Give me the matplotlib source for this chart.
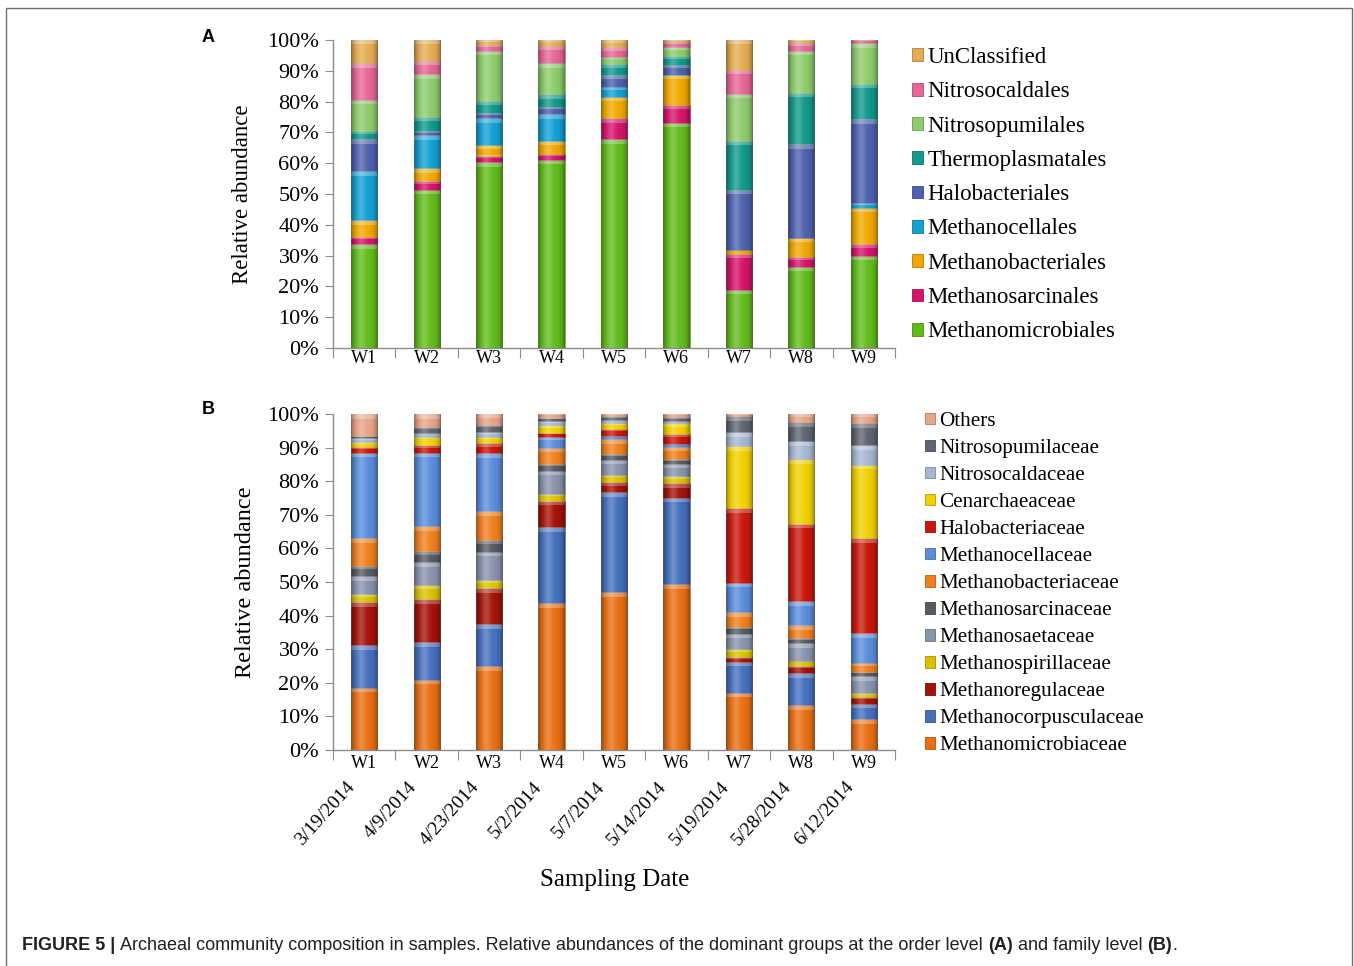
import numpy as np
import matplotlib
matplotlib.use('Agg')
import matplotlib.pyplot as plt
from matplotlib.patches import Patch, Rectangle
from matplotlib.colors import to_rgb

samples = ['W1', 'W2', 'W3', 'W4', 'W5', 'W6', 'W7', 'W8', 'W9']
dates = ['3/19/2014', '4/9/2014', '4/23/2014', '5/2/2014', '5/7/2014',
         '5/14/2014', '5/19/2014', '5/28/2014', '6/12/2014']

# order level, relative abundance (%), stacked bottom -> top
methanomicrobiales = [33.7, 51.4, 60.3, 61.2, 67.7, 73.2, 18.8, 26.4, 30.0]
methanosarcinales = [2.5, 2.7, 2.2, 1.8, 6.9, 5.7, 11.7, 3.1, 3.8]
methanobacteriales = [5.2, 4.2, 3.3, 4.2, 6.9, 9.7, 1.3, 6.2, 11.6]
methanocellales = [16.0, 10.7, 8.8, 8.7, 3.3, 0.5, 0.0, 0.0, 1.7]
halobacteriales = [10.3, 1.4, 1.8, 2.4, 3.8, 2.7, 19.6, 30.4, 27.1]
thermoplasmatales = [2.7, 4.6, 3.8, 4.1, 3.6, 3.1, 15.8, 16.8, 11.5]
nitrosopumilales = [10.1, 13.9, 16.3, 10.0, 2.4, 2.7, 15.4, 13.6, 13.2]
nitrosocaldales = [11.9, 4.4, 2.0, 5.8, 3.0, 1.6, 7.6, 2.5, 1.1]
unclassified = [7.6, 6.7, 1.5, 1.8, 2.4, 0.8, 9.8, 1.0, 0.0]

# family level, relative abundance (%), stacked bottom -> top
methanomicrobiaceae = [18.6, 20.9, 24.9, 43.8, 47.0, 49.3, 17.1, 13.4, 9.2]
methanocorpusculaceae = [12.7, 11.2, 12.6, 22.6, 29.7, 25.8, 9.2, 9.5, 4.6]
methanoregulaceae = [12.7, 12.9, 10.7, 7.8, 3.0, 4.3, 1.3, 2.2, 2.0]
methanospirillaceae = [2.5, 4.2, 2.3, 2.0, 2.2, 2.0, 2.5, 1.5, 1.1]
methanosaetaceae = [5.3, 6.8, 8.5, 6.9, 4.5, 3.7, 4.5, 5.3, 5.0]
methanosarcinaceae = [3.0, 3.3, 3.6, 2.1, 1.6, 1.5, 2.0, 1.4, 1.4]
methanobacteriaceae = [8.3, 7.4, 8.5, 4.8, 4.5, 3.5, 4.4, 3.8, 2.5]
methanocellaceae = [25.4, 21.8, 17.2, 3.3, 1.1, 1.0, 8.8, 7.1, 9.0]
halobacteriaceae = [1.8, 2.3, 3.0, 1.0, 2.0, 3.0, 22.1, 23.2, 28.3]
cenarchaeaceae = [1.3, 2.5, 2.0, 2.3, 1.7, 3.2, 18.6, 19.2, 21.8]
nitrosocaldaceae = [1.2, 1.0, 1.3, 1.2, 1.0, 0.7, 4.1, 5.4, 5.9]
nitrosopumilaceae = [0.7, 1.7, 2.2, 1.0, 1.0, 1.0, 4.7, 5.6, 6.5]
others = [6.5, 4.0, 3.2, 1.2, 0.7, 1.0, 0.7, 2.4, 2.7]

order_series = [
    ('Methanomicrobiales', methanomicrobiales, '#62bb1c'),
    ('Methanosarcinales', methanosarcinales, '#d5146a'),
    ('Methanobacteriales', methanobacteriales, '#f0a800'),
    ('Methanocellales', methanocellales, '#13a0d2'),
    ('Halobacteriales', halobacteriales, '#4e61ad'),
    ('Thermoplasmatales', thermoplasmatales, '#12998a'),
    ('Nitrosopumilales', nitrosopumilales, '#8dcb6c'),
    ('Nitrosocaldales', nitrosocaldales, '#e56797'),
    ('UnClassified', unclassified, '#e5ac52'),
]

family_series = [
    ('Methanomicrobiaceae', methanomicrobiaceae, '#e86f12'),
    ('Methanocorpusculaceae', methanocorpusculaceae, '#4670bd'),
    ('Methanoregulaceae', methanoregulaceae, '#a3130a'),
    ('Methanospirillaceae', methanospirillaceae, '#d8c200'),
    ('Methanosaetaceae', methanosaetaceae, '#8893ad'),
    ('Methanosarcinaceae', methanosarcinaceae, '#565b63'),
    ('Methanobacteriaceae', methanobacteriaceae, '#ef7f1d'),
    ('Methanocellaceae', methanocellaceae, '#5a8ddb'),
    ('Halobacteriaceae', halobacteriaceae, '#c8180c'),
    ('Cenarchaeaceae', cenarchaeaceae, '#f1d000'),
    ('Nitrosocaldaceae', nitrosocaldaceae, '#a8b6d2'),
    ('Nitrosopumilaceae', nitrosopumilaceae, '#5e6570'),
    ('Others', others, '#e8a487'),
]

W, H = 1354, 966
SERIF = 'Liberation Serif'
SANS = 'Liberation Sans'
AXIS_GREY = '#8c8c8c'

fig = plt.figure(figsize=(W / 100, H / 100), dpi=100)


def px_axes(left, top, right, bottom):
    return fig.add_axes([left / W, 1 - bottom / H, (right - left) / W, (bottom - top) / H])


def darker(c, f=0.7):
    r, g, b = to_rgb(c)
    return (r * f, g * f, b * f)


# horizontal shading across each bar: dark rims + a soft highlight
t = np.linspace(0, 1, 64)
rim = np.zeros((1, 64, 4))
rim[0, :, 3] = 0.38 * np.abs(2 * t - 1) ** 4
shine = np.ones((1, 64, 4))
shine[0, :, 3] = 0.22 * np.exp(-((t - 0.38) / 0.16) ** 2)


def stacked(ax, series, width=0.42, label_pad=1.5):
    x = np.arange(len(samples))
    bottom = np.zeros(len(samples))
    for name, vals, col in series:
        vals = np.array(vals)
        ax.bar(x, vals, width, bottom=bottom, color=col, edgecolor=darker(col, 0.8),
               linewidth=0.4, label=name, zorder=2)
        # lighter cap on each segment
        cap = np.minimum(1.4, vals * 0.35)
        ax.bar(x, cap, width, bottom=bottom + vals - cap, color='white', alpha=0.28,
               linewidth=0, zorder=3)
        bottom += vals
    for xi, top in zip(x, bottom):
        ext = (xi - width / 2, xi + width / 2, 0, top)
        ax.imshow(shine, extent=ext, aspect='auto', zorder=4, interpolation='bilinear')
        ax.imshow(rim, extent=ext, aspect='auto', zorder=4, interpolation='bilinear')

    ax.set_xlim(-0.5, len(samples) - 0.5)
    ax.set_ylim(0, 100)
    ax.set_yticks(np.arange(0, 101, 10))
    ax.set_yticklabels([f'{v}%' for v in range(0, 101, 10)], fontfamily=SERIF, fontsize=16)
    ax.tick_params(axis='y', direction='out', length=6, color=AXIS_GREY, pad=4)
    ax.set_xticks(np.arange(-0.5, len(samples)), minor=False)
    ax.set_xticklabels([])
    ax.tick_params(axis='x', which='major', direction='out', length=7, color=AXIS_GREY)
    ax.set_xticks(x, minor=True)
    ax.set_xticklabels(samples, minor=True, fontfamily=SERIF, fontsize=13)
    ax.tick_params(axis='x', which='minor', length=0, pad=label_pad)
    for s in ('top', 'right'):
        ax.spines[s].set_visible(False)
    for s in ('left', 'bottom'):
        ax.spines[s].set_color(AXIS_GREY)
        ax.spines[s].set_linewidth(1.0)


def legend(ax, series, x, y, fs, spacing):
    handles = [Patch(facecolor=c, edgecolor=darker(c, 0.75), linewidth=0.6) for _, _, c in series][::-1]
    labels = [n for n, _, _ in series][::-1]
    ax.legend(handles, labels, loc='upper left', bbox_to_anchor=(x / W, 1 - y / H),
              bbox_transform=fig.transFigure, frameon=False, borderpad=0, borderaxespad=0,
              handlelength=0.48, handleheight=0.48, handletextpad=0.2, labelspacing=spacing,
              prop={'family': SERIF, 'size': fs})


# panel A: order level
axA = px_axes(333, 40, 895, 348)
stacked(axA, order_series, label_pad=1.5)
axA.set_ylabel('Relative abundance', fontfamily=SERIF, fontsize=16.5, labelpad=10)
legend(axA, order_series, 912, 47, 16.5, 0.58)

# panel B: family level
axB = px_axes(333, 414, 895, 750)
stacked(axB, family_series, label_pad=3.5)
axB.set_ylabel('Relative abundance', fontfamily=SERIF, fontsize=17.5, labelpad=8)
legend(axB, family_series, 925, 412, 15.2, 0.38)
for i, d in enumerate(dates):
    axB.text(i - 0.3, -0.085, d, transform=axB.get_xaxis_transform(), rotation=48,
             rotation_mode='anchor', ha='right', va='top', fontfamily=SERIF, fontsize=14)
fig.text(615 / W, 1 - 880 / H, 'Sampling Date', ha='center', va='center',
         fontfamily=SERIF, fontsize=18)

fig.text(208 / W, 1 - 38 / H, 'A', ha='center', va='center', fontfamily=SANS,
         fontweight='bold', fontsize=13)
fig.text(208 / W, 1 - 410 / H, 'B', ha='center', va='center', fontfamily=SANS,
         fontweight='bold', fontsize=13)

# frame around the figure body
fig.patches.append(Rectangle((6 / W, -0.05), (1352 - 6) / W, 1.05 - 8 / H,
                             transform=fig.transFigure, fill=False, edgecolor='#6e6e6e',
                             linewidth=1.0))

# caption, mixing bold and regular runs
caption = [('FIGURE 5 | ', 'bold'),
           ('Archaeal community composition in samples. Relative abundances of the dominant '
            'groups at the order level ', 'normal'),
           ('(A)', 'bold'), (' and family level ', 'normal'), ('(B)', 'bold'), ('.', 'normal')]
renderer = fig.canvas.get_renderer()
xpos = 22
for txt, wt in caption:
    tx = fig.text(xpos / W, 1 - 945 / H, txt, ha='left', va='center', fontfamily=SANS,
                  fontweight=wt, fontsize=13.0, color='#231f20')
    xpos += tx.get_window_extent(renderer).width

fig.savefig('out.png', dpi=100)
